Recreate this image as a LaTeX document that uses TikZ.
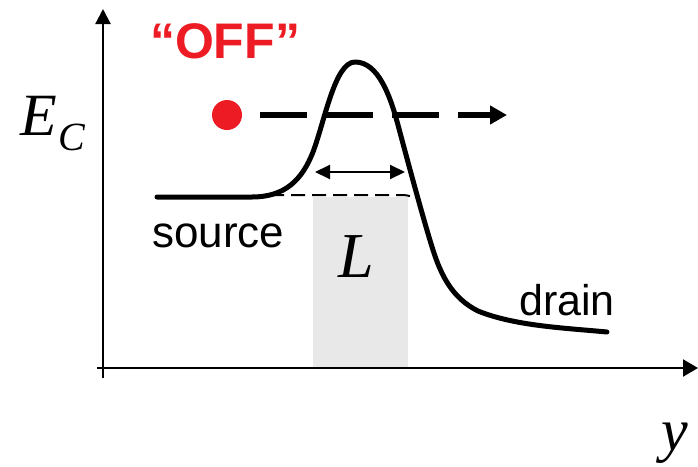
\documentclass[tikz,border=0pt]{standalone}
\usepackage{fontspec}
\setmainfont{Liberation Sans}
\newfontfamily\tms{Liberation Serif}
\usetikzlibrary{arrows.meta}
\definecolor{offred}{RGB}{237,28,36}
\definecolor{chan}{RGB}{232,232,232}
\tikzset{
  axis/.style={line width=2.2pt},
  band/.style={line width=5pt, line cap=round, line join=round},
  lbl/.style={inner sep=0pt, anchor=base west},
}
\begin{document}
\begin{tikzpicture}[x=1pt,y=-1pt]
\useasboundingbox (0,0) rectangle (698,466);
% channel region
\fill[chan] (313,197) rectangle (408,367);
% axes
\coordinate (vb) at (103,378); \coordinate (vt) at (103,9);
\coordinate (hl) at (97,368); \coordinate (hr) at (698,368);
\draw[axis,-{Triangle[length=15pt,width=15pt]}] (vb) -- (vt);
\draw[axis,-{Triangle[length=15pt,width=17pt]}] (hl) -- (hr);
% band profile
\draw[band] (157,197) -- (252,197) .. controls (285,197) and (302,180) .. (313,152)
  .. controls (325,120) and (335,62) .. (355,62)
  .. controls (378,62) and (390,95) .. (398,125)
  .. controls (410,170) and (425,225) .. (433,250)
  .. controls (441,275) and (452,298) .. (478,311)
  .. controls (515,326) and (565,328) .. (607,332);
% thin dashed line
\coordinate (ds) at (270,195); \coordinate (dm) at (402,195); \coordinate (de) at (418,199);
\draw[line width=2pt, dash pattern=on 14pt off 7pt] (ds) -- (dm) to[out=0,in=160] (de);
% length arrow
\coordinate (la) at (315,172); \coordinate (lb) at (405,172);
\draw[line width=2pt, {Triangle[length=15pt,width=14pt]}-{Triangle[length=15pt,width=14pt]}] (la) -- (lb);
% electron and its path
\node[circle, fill=offred, minimum size=30pt, inner sep=0pt] (el) at (227,115) {};
\coordinate (ps) at (260,115); \coordinate (pe) at (507,115);
\draw[line width=6pt, dash pattern=on 47pt off 19pt, -{Triangle[length=17pt,width=18pt]}] (ps) -- (pe);
% labels
\node[inner sep=0pt, anchor=base, text=offred] (off) at (225,58)
  {\fontsize{50}{50}\selectfont\bfseries “OFF”};
\node[lbl] (ec) at (20,135)
  {\tms\itshape\fontsize{60}{60}\selectfont E\kern2pt\raisebox{-15pt}{\fontsize{40}{40}\selectfont C}};
\node[lbl] (src) at (152,247) {\fontsize{44}{44}\selectfont source};
\node[lbl] (drn) at (519,315) {\fontsize{43}{43}\selectfont drain};
\node[inner sep=0pt, anchor=base] (ll) at (356,277) {\tms\itshape\fontsize{64}{64}\selectfont L};
\node[inner sep=0pt, anchor=base] (yy) at (675,450) {\tms\itshape\fontsize{60}{60}\selectfont y};
\end{tikzpicture}
\end{document}
